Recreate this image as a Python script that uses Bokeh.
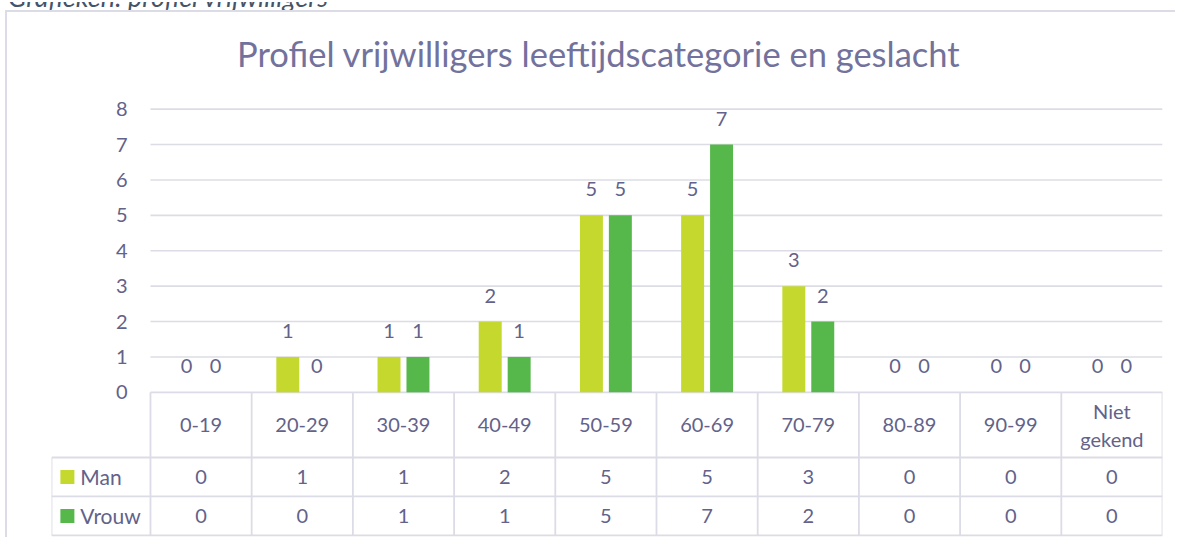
from bokeh.plotting import figure
from bokeh.models import Range1d, FixedTicker, Label, ColumnDataSource, Div
from bokeh.layouts import column
from bokeh.core.properties import value
from bokeh.embed import file_html
from bokeh.resources import INLINE
import numpy as np

# ---- data ----
categories = ["0-19", "20-29", "30-39", "40-49", "50-59", "60-69", "70-79",
              "80-89", "90-99", "Niet\ngekend"]
man = [0, 1, 1, 2, 5, 5, 3, 0, 0, 0]
vrouw = [0, 0, 1, 1, 5, 7, 2, 0, 0, 0]
series_names = ["Man", "Vrouw"]
y_ticks = [0, 1, 2, 3, 4, 5, 6, 7, 8]
title_text = "Profiel vrijwilligers leeftijdscategorie en geslacht"
caption_text = "Grafieken: profiel vrijwilligers"

# ---- style ----
FONT = "Lato"
TEXT = "#62628a"
TITLE_C = "#72729c"
GRID = "#dcdce6"
C_MAN = "#c4d82e"
C_VROUW = "#56b84b"
colors = [C_MAN, C_VROUW]

n = len(categories)
xc = np.arange(n) + 0.5
BAR_W = 0.227
DODGE = 0.143
LEG_W = 0.978          # width of the legend column of the data table (category units)
HDR_H = 1.84           # header row height (y units)
ROW_H = 1.10           # data row height (y units)
TBL_BOT = -(HDR_H + 2 * ROW_H)
Y_TOP = 10.73          # room above the plot area for the chart title
TITLE_X = n / 2 - 0.57
TITLE_Y = 9.57

p = figure(width=1170, height=527,
           x_range=Range1d(-LEG_W, n), y_range=Range1d(-4.1, Y_TOP),
           output_backend="svg", toolbar_location=None,
           min_border_left=44, min_border_right=15, min_border_top=0,
           min_border_bottom=2, x_axis_location=None, outline_line_color=None)
p.styles = {"margin-left": "5px", "border-left": "2px solid #dcdce6",
            "border-top": "2px solid #dcdce6"}
p.xgrid.visible = False
p.ygrid.visible = False

# chart title
p.add_layout(Label(x=TITLE_X, y=TITLE_Y, text=title_text, text_align="center",
                   text_baseline="alphabetic", text_font=FONT,
                   text_font_size="34.5px", text_color=TITLE_C))

# y axis (labels sit right next to the plot area)
p.yaxis.ticker = FixedTicker(ticks=y_ticks)
p.yaxis.axis_line_color = None
p.yaxis.major_tick_line_color = None
p.yaxis.minor_tick_line_color = None
p.yaxis.major_tick_out = 0
p.yaxis.major_tick_in = 0
p.yaxis.major_label_standoff = -76
p.yaxis.major_label_text_font = FONT
p.yaxis.major_label_text_font_size = "20px"
p.yaxis.major_label_text_color = TEXT

# gridlines over the category area
p.segment(x0=[0] * len(y_ticks), y0=y_ticks, x1=[n] * len(y_ticks), y1=y_ticks,
          line_color=GRID, line_width=1.6)

# bars + data labels
for vals, dx, col in [(man, -DODGE, C_MAN), (vrouw, DODGE, C_VROUW)]:
    src = ColumnDataSource(dict(x=xc + dx, top=vals, lab=[str(v) for v in vals]))
    p.vbar(x="x", top="top", bottom=0, width=BAR_W, source=src,
           fill_color=col, line_color=None)
    p.text(x="x", y="top", text="lab", source=src, text_align="center",
           text_baseline="alphabetic", y_offset=-26,
           text_font=value(FONT), text_font_size="20px", text_color=TEXT)

# ---- data table ----
hy = [-HDR_H, -HDR_H - ROW_H, TBL_BOT]
p.segment(x0=[-LEG_W] * 3, y0=hy, x1=[n] * 3, y1=hy, line_color=GRID, line_width=1.8)
vx = list(range(n + 1)) + [-LEG_W]
vy0 = [0] * (n + 1) + [-HDR_H]
p.segment(x0=vx, y0=vy0, x1=vx, y1=[TBL_BOT] * len(vx), line_color=GRID, line_width=1.8)

p.text(x=xc, y=[-HDR_H / 2] * n, text=categories, text_align="center",
       text_baseline="middle", text_font=value(FONT), text_font_size="20px",
       text_color=TEXT, text_line_height=1.2)
row_y = [-HDR_H - ROW_H / 2, -HDR_H - 1.5 * ROW_H]
for vals, ry in zip([man, vrouw], row_y):
    p.text(x=xc, y=[ry] * n, text=[str(v) for v in vals], text_align="center",
           text_baseline="middle", text_font=value(FONT), text_font_size="20px",
           text_color=TEXT)
p.scatter(x=[-LEG_W + 0.157] * 2, y=row_y, marker="square", size=14,
          fill_color=colors, line_color=None)
p.text(x=[-LEG_W + 0.285] * 2, y=row_y, text=series_names, text_align="left",
       text_baseline="middle", text_font=value(FONT), text_font_size="21px",
       text_color=TEXT)

# caption above the chart box (cut off by the top of the page, as in the reference)
caption = Div(text=('<div style="width:1177px;height:10px;overflow:hidden;position:relative;">'
                    '<div style="position:absolute;top:-18px;left:8px;white-space:nowrap;'
                    'line-height:25px;font-family:Lato;font-style:italic;font-size:27px;'
                    'color:#44546a;">' + caption_text + '</div></div>'),
              width=1177, height=10, margin=0,
              styles={"overflow": "hidden", "min-height": "0px", "max-height": "10px"})

layout = column(caption, p, spacing=0)
open("out.html", "w").write(file_html(layout, INLINE))
